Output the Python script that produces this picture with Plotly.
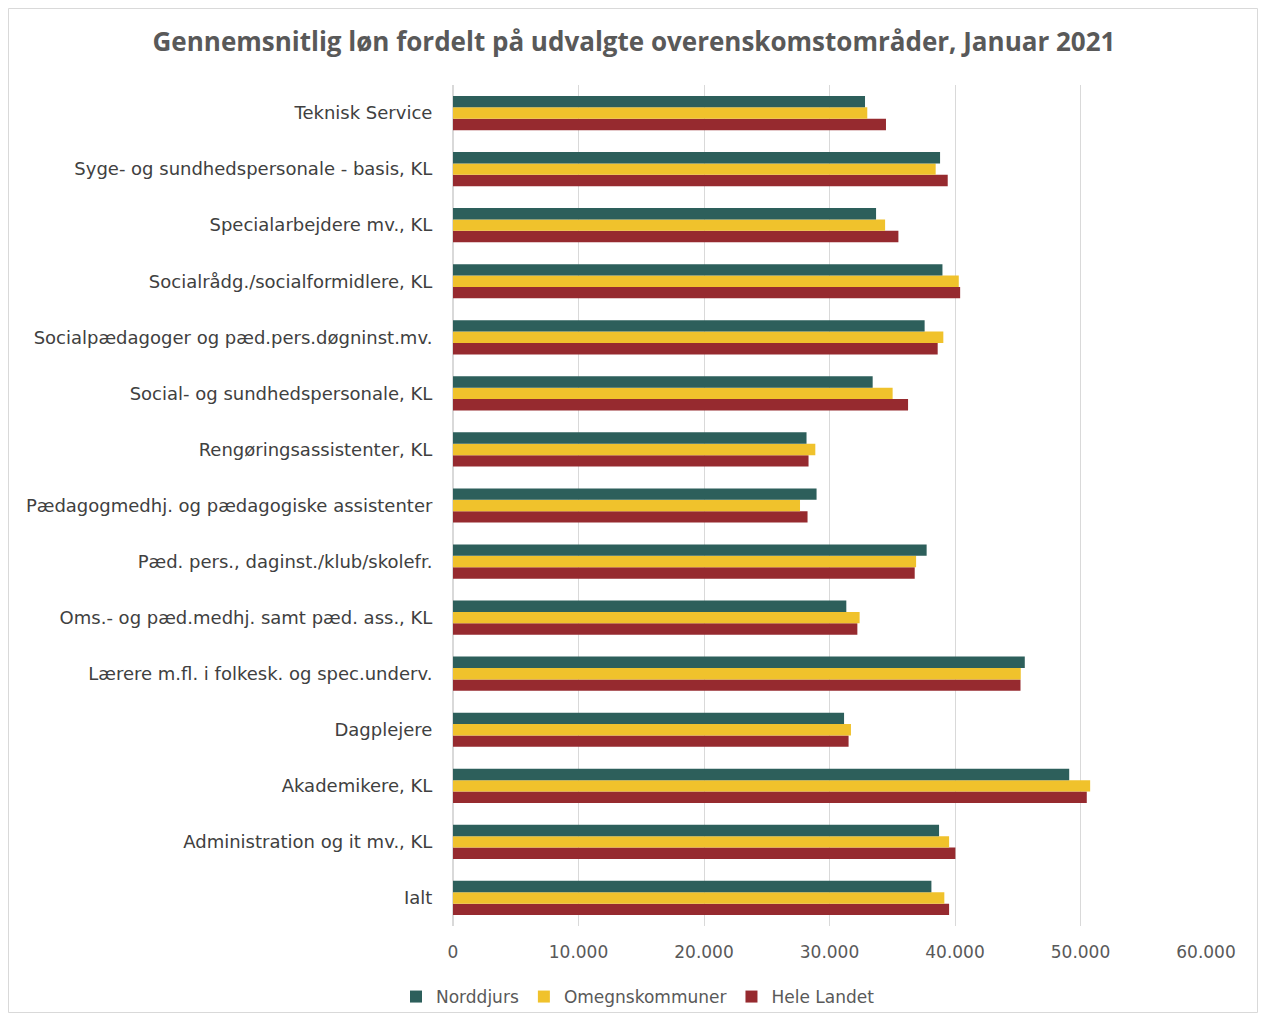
import plotly.graph_objects as go

categories = [
    "Ialt",
    "Administration og it mv., KL",
    "Akademikere, KL",
    "Dagplejere",
    "Lærere m.fl. i folkesk. og spec.underv.",
    "Oms.- og pæd.medhj. samt pæd. ass., KL",
    "Pæd. pers., daginst./klub/skolefr.",
    "Pædagogmedhj. og pædagogiske assistenter",
    "Rengøringsassistenter, KL",
    "Social- og sundhedspersonale, KL",
    "Socialpædagoger og pæd.pers.døgninst.mv.",
    "Socialrådg./socialformidlere, KL",
    "Specialarbejdere mv., KL",
    "Syge- og sundhedspersonale - basis, KL",
    "Teknisk Service",
]

norddjurs = [38120, 38730, 49100, 31160, 45560, 31340, 37740, 28970, 28170, 33440, 37580, 39000, 33710, 38810, 32830]
omegn = [39150, 39530, 50770, 31710, 45240, 32400, 36900, 27650, 28870, 35030, 39070, 40300, 34430, 38460, 33010]
hele = [39530, 40030, 50500, 31520, 45220, 32220, 36790, 28250, 28330, 36260, 38620, 40410, 35490, 39420, 34500]

series_names = ["Norddjurs", "Omegnskommuner", "Hele Landet"]
colors = {"Norddjurs": "#2D5F5B", "Omegnskommuner": "#F0C22C", "Hele Landet": "#962A2F"}
values = {"Norddjurs": norddjurs, "Omegnskommuner": omegn, "Hele Landet": hele}
x_ticks = [0, 10000, 20000, 30000, 40000, 50000, 60000]

W, H = 1250, 1005
L, R, T, B = 445, 1198, 77, 918
pw, ph = R - L, B - T

fig = go.Figure()
for rank, name in reversed(list(enumerate(series_names))):
    fig.add_trace(go.Bar(
        y=categories, x=values[name], name=name, orientation="h",
        marker=dict(color=colors[name], line=dict(width=0)),
        legendrank=rank + 1,
    ))

fig.update_layout(
    width=W, height=H,
    margin=dict(l=L, r=W - R, t=T, b=H - B, pad=0, autoexpand=False),
    paper_bgcolor="white", plot_bgcolor="white",
    barmode="group", bargap=0.39, bargroupgap=0,
    separators=",.",
    font=dict(family="DejaVu Sans, sans-serif", color="#404040", size=17),
    title=dict(text="<b>Gennemsnitlig løn fordelt på udvalgte overenskomstområder, Januar 2021</b>",
               x=(634 - 8) / W, xref="container", xanchor="center", y=1 - 34 / H, yref="container", yanchor="middle",
               font=dict(family="Open Sans, sans-serif", size=26, color="#595959")),
    legend=dict(orientation="h", x=(630 - L) / pw, xref="paper", xanchor="center",
                y=-(989 - B) / ph, yref="paper", yanchor="middle",
                bgcolor="rgba(0,0,0,0)",
                font=dict(size=17, color="#595959"), itemwidth=30,
                traceorder="normal"),
    xaxis=dict(range=[0, 60000], tickvals=x_ticks, tickformat=",d",
               showgrid=True, gridcolor="#D9D9D9", gridwidth=1,
               zeroline=True, zerolinecolor="#D9D9D9",
               tickfont=dict(size=17, color="#595959"),
               ticks="outside", ticklen=11, tickcolor="rgba(0,0,0,0)", showline=False,
               automargin=False),
    yaxis=dict(categoryorder="array", categoryarray=categories,
               tickfont=dict(size=18, color="#404040"),
               ticks="outside", ticklen=16, tickcolor="rgba(0,0,0,0)",
               showline=False, automargin=False),
    shapes=[dict(type="rect", xref="paper", yref="paper",
                 x0=(0.5 - L) / pw, x1=(W - 0.5 - L) / pw,
                 y0=-(H - 0.5 - B) / ph, y1=1 + (T - 0.5) / ph,
                 line=dict(color="#D9D9D9", width=1), fillcolor="rgba(0,0,0,0)", layer="below")],
)

fig.write_html("out.html")
